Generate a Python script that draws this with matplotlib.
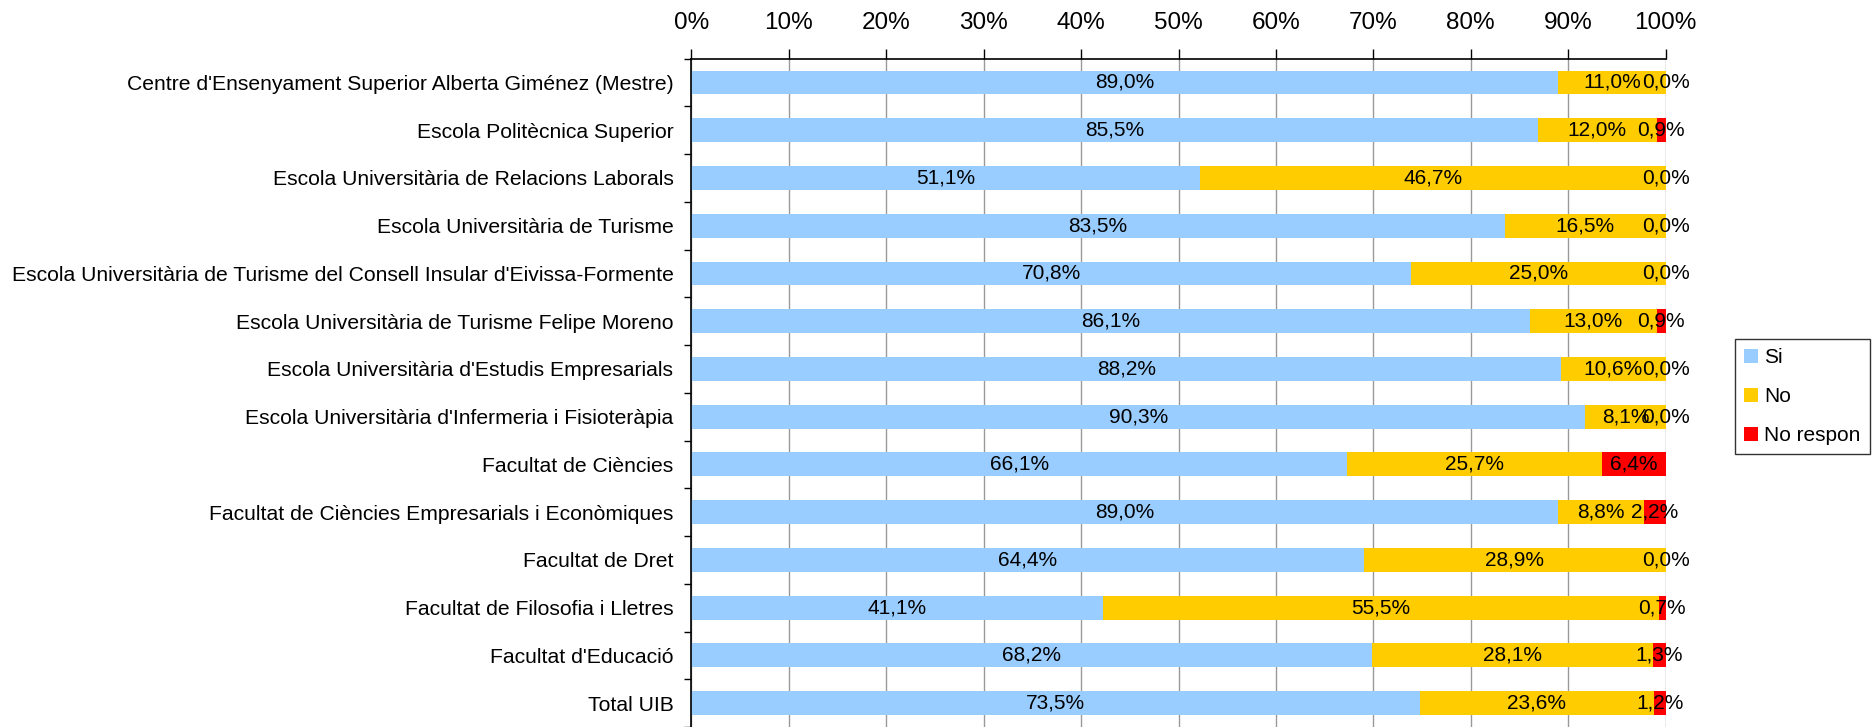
import numpy as np
import matplotlib
matplotlib.use("Agg")
import matplotlib.pyplot as plt
from matplotlib.ticker import FixedLocator, PercentFormatter

plt.rcParams['font.family'] = ['Liberation Sans', 'DejaVu Sans']

# data (percentages as printed on the chart)
centres = [
    "Centre d'Ensenyament Superior Alberta Giménez (Mestre)",
    "Escola Politècnica Superior",
    "Escola Universitària de Relacions Laborals",
    "Escola Universitària de Turisme",
    "Escola Universitària de Turisme del Consell Insular d'Eivissa-Formente",
    "Escola Universitària de Turisme Felipe Moreno",
    "Escola Universitària d'Estudis Empresarials",
    "Escola Universitària d'Infermeria i Fisioteràpia",
    "Facultat de Ciències",
    "Facultat de Ciències Empresarials i Econòmiques",
    "Facultat de Dret",
    "Facultat de Filosofia i Lletres",
    "Facultat d'Educació",
    "Total UIB",
]
si = [89.0, 85.5, 51.1, 83.5, 70.8, 86.1, 88.2, 90.3, 66.1, 89.0, 64.4, 41.1, 68.2, 73.5]
no = [11.0, 12.0, 46.7, 16.5, 25.0, 13.0, 10.6, 8.1, 25.7, 8.8, 28.9, 55.5, 28.1, 23.6]
no_resp = [0.0, 0.9, 0.0, 0.0, 0.0, 0.9, 0.0, 0.0, 6.4, 2.2, 0.0, 0.7, 1.3, 1.2]
series = ["Si", "No", "No respon"]
colors = ["#99CCFF", "#FFCC00", "#FF0000"]

vals = np.array([si, no, no_resp])
total = vals.sum(axis=0)
frac = vals / total          # bars are stacked to 100%
y = np.arange(len(centres))

fig = plt.figure(figsize=(18.76, 7.27), dpi=100)
ax = fig.add_axes([0.3686, 0.0, 0.5192, 0.9194])

left = np.zeros(len(centres))
for k in range(3):
    ax.barh(y, frac[k], left=left, height=0.5, color=colors[k], label=series[k], zorder=2)
    for i in range(len(centres)):
        txt = ("%.1f%%" % vals[k][i]).replace(".", ",")
        ax.text(left[i] + frac[k][i] / 2, y[i], txt, ha="center", va="center",
                fontsize=15, zorder=3)
    left = left + frac[k]

ax.set_xlim(0, 1)
ax.set_ylim(len(centres) - 0.5, -0.5)

ax.xaxis.tick_top()
ax.xaxis.set_major_locator(FixedLocator(np.linspace(0, 1, 11)))
ax.xaxis.set_major_formatter(PercentFormatter(1.0, decimals=0))
ax.tick_params(axis="x", direction="out", length=7, width=1, pad=11, labelsize=17.5)
ax.grid(axis="x", color="#999999", linewidth=1, zorder=1)

ax.set_yticks(y)
ax.set_yticklabels(centres)
ax.yaxis.set_minor_locator(FixedLocator(np.arange(-0.5, len(centres), 1)))
ax.tick_params(axis="y", which="major", length=0, pad=13, labelsize=15.2)
ax.tick_params(axis="y", which="minor", length=5, width=1)

ax.spines["right"].set_visible(False)
ax.spines["bottom"].set_visible(False)
ax.spines["top"].set_linewidth(1.2)
ax.spines["left"].set_linewidth(1.2)

leg = fig.legend(loc="upper left", bbox_to_anchor=(1735 / 1876, 1 - 339 / 727),
                 fontsize=15, frameon=True, fancybox=False, edgecolor="black",
                 handlelength=0.65, handleheight=0.65, handletextpad=0.3,
                 labelspacing=0.95, borderpad=0.45, borderaxespad=0)
leg.get_frame().set_linewidth(1)

fig.savefig("out.png", dpi=100)
